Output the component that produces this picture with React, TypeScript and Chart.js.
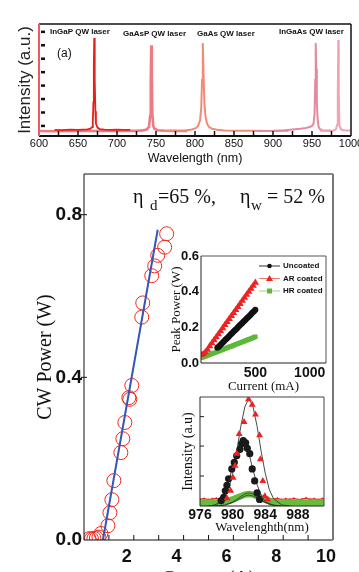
import React, { useEffect, useRef } from "react";
import { Chart, registerables } from "chart.js";

Chart.register(...registerables);

const SANS = '"Liberation Sans", Arial, Helvetica, sans-serif';
const SERIF = '"Liberation Serif", "Times New Roman", serif';

// ---------- Panel (a): lasing spectra ----------
const ingapWl = [620, 630, 640, 650, 656, 662, 666, 668, 669, 669.7, 670.3, 670.8, 671.2, 671.7, 672.3, 673, 675, 678, 684, 692, 700, 708, 717];
const ingapI = [0.055, 0.052, 0.056, 0.054, 0.057, 0.06, 0.066, 0.08, 0.12, 0.3, 0.65, 0.875, 0.8, 0.5, 0.22, 0.11, 0.075, 0.062, 0.057, 0.055, 0.056, 0.054, 0.055];
const gaaspWl = [600, 620, 650, 680, 700, 715, 725, 733, 738, 741, 742.5, 743.3, 744, 744.6, 745.3, 746.5, 748, 752, 760, 770, 780, 790];
const gaaspI = [0.045, 0.043, 0.046, 0.044, 0.045, 0.047, 0.046, 0.05, 0.058, 0.08, 0.18, 0.5, 0.81, 0.55, 0.2, 0.09, 0.065, 0.052, 0.048, 0.046, 0.045, 0.046];
const gaasWl = [760, 775, 788, 796, 801, 804, 806.5, 808, 809, 810, 811, 812, 813.5, 815.5, 818, 822, 828, 838, 855, 875, 900, 920];
const gaasI = [0.045, 0.047, 0.05, 0.058, 0.07, 0.09, 0.14, 0.25, 0.5, 0.83, 0.55, 0.3, 0.17, 0.11, 0.08, 0.065, 0.056, 0.05, 0.047, 0.046, 0.045, 0.046];
const ingaasWl = [880, 900, 915, 925, 935, 942, 947, 950, 952, 953.3, 954.2, 954.8, 955.4, 956.2, 957.2, 958.5, 960.5, 963, 967, 975];
const ingaasI = [0.045, 0.047, 0.052, 0.058, 0.065, 0.072, 0.08, 0.09, 0.11, 0.2, 0.5, 0.83, 0.6, 0.3, 0.15, 0.08, 0.06, 0.052, 0.048, 0.046];
const ingaas2Wl = [960, 970, 977, 980.5, 982.3, 983.1, 983.7, 984.3, 985.1, 987, 990, 995, 1000];
const ingaas2I = [0.046, 0.047, 0.05, 0.058, 0.1, 0.4, 0.857, 0.4, 0.1, 0.06, 0.052, 0.05, 0.048];
const topXTickMarks = [625, 650, 675, 700, 725, 750, 775, 800, 825, 850, 875, 900, 925, 950, 975];
const topYTickMarks = [0.09, 0.21, 0.33, 0.45, 0.57, 0.69, 0.81, 0.93];

// ---------- Main: CW power vs current ----------
const cwCurrent = [0.2, 0.3, 0.4, 0.5, 0.6, 0.68, 0.96, 1.04, 1.12, 1.2, 1.48, 1.56, 1.64, 1.8, 1.84, 1.92, 2.32, 2.36, 2.72, 2.84, 2.96, 3.24, 3.32];
const cwPower = [0.003, 0.003, 0.004, 0.005, 0.007, 0.016, 0.035, 0.067, 0.099, 0.146, 0.215, 0.249, 0.289, 0.35, 0.346, 0.38, 0.548, 0.583, 0.65, 0.674, 0.7, 0.72, 0.753];
const fitCurrent = [0.76, 2.96];
const fitPower = [0, 0.763];
const mainYTicks = [0, 0.4, 0.8];
const mainXTicks = [2, 4, 6, 8, 10];
const mainXTickMarks = [1, 2, 3, 4, 5, 6, 7, 8, 9];

// ---------- Inset: peak power vs current ----------
const hrCurrent = [0, 20, 40, 60, 80, 100, 120, 140, 160, 180, 200, 220, 240, 260, 280, 300, 320, 340, 360, 380, 400, 420, 440, 460, 480, 500];
const hrPower = [0.03, 0.033, 0.037, 0.042, 0.047, 0.052, 0.056, 0.061, 0.066, 0.071, 0.075, 0.08, 0.085, 0.09, 0.094, 0.099, 0.104, 0.109, 0.113, 0.118, 0.123, 0.128, 0.132, 0.137, 0.142, 0.147];
const ucCurrent = [150, 160, 170, 180, 190, 200, 210, 220, 230, 240, 250, 260, 270, 280, 290, 300, 310, 320, 330, 340, 350, 360, 370, 380, 390, 400, 410, 420, 430, 440, 450, 460, 470, 480, 490, 500];
const ucPower = [0.085, 0.09, 0.096, 0.102, 0.108, 0.115, 0.121, 0.127, 0.133, 0.139, 0.145, 0.152, 0.158, 0.164, 0.17, 0.176, 0.182, 0.188, 0.194, 0.2, 0.207, 0.213, 0.219, 0.225, 0.231, 0.237, 0.243, 0.249, 0.255, 0.261, 0.267, 0.274, 0.28, 0.286, 0.292, 0.298];
const arCurrent = [0, 20, 40, 60, 80, 100, 120, 140, 160, 180, 200, 220, 240, 260, 280, 300, 320, 340, 360, 380, 400, 420, 440, 460, 480, 500];
const arPower = [0.045, 0.05, 0.06, 0.075, 0.094, 0.111, 0.128, 0.145, 0.162, 0.179, 0.196, 0.213, 0.23, 0.247, 0.264, 0.281, 0.298, 0.315, 0.332, 0.349, 0.366, 0.383, 0.4, 0.417, 0.434, 0.45];
const peakYTicks = [0, 0.2, 0.4, 0.6];
const peakXTicks = [500, 1000];
const legendLabels = ["Uncoated", "AR coated", "HR coated"];

// ---------- Inset: spectra near 982 nm ----------
const arSpecWl = [979.3, 979.75, 980.05, 980.3, 980.5, 980.8, 981.4, 981.95, 982.4, 982.8, 983.3, 983.4, 983.7, 983.95, 984.3];
const arSpecI = [0.07, 0.14, 0.26, 0.37, 0.48, 0.66, 0.77, 0.98, 0.93, 0.84, 0.65, 0.43, 0.23, 0.09, 0.06];
const ucSpecWl = [978.6, 978.9, 979.1, 979.3, 979.5, 979.9, 980.2, 980.5, 980.9, 981.1, 981.3, 981.6, 981.8, 982.1, 982.4, 982.7, 983.0, 983.3];
const ucSpecI = [0.05, 0.08, 0.14, 0.19, 0.25, 0.34, 0.4, 0.46, 0.52, 0.57, 0.6, 0.58, 0.53, 0.48, 0.34, 0.23, 0.12, 0.06];
const hrSpecWl = [976, 976.5, 977, 977.5, 978, 978.5, 979, 979.5, 980, 980.5, 981, 981.5, 982, 982.5, 983, 983.5, 984, 984.5, 985, 985.5, 986, 986.5, 987, 987.5, 988, 988.5, 989, 989.5, 990, 990.5, 991, 991.5, 992];
const hrSpecI = [0.03, 0.032, 0.03, 0.031, 0.033, 0.035, 0.04, 0.048, 0.06, 0.075, 0.09, 0.105, 0.11, 0.105, 0.09, 0.075, 0.058, 0.045, 0.038, 0.034, 0.032, 0.031, 0.03, 0.032, 0.031, 0.03, 0.032, 0.03, 0.031, 0.03, 0.032, 0.03, 0.031];
const arNoiseLWl = [976, 976.5, 977, 977.5, 978, 978.5, 979];
const arNoiseL = [0.062, 0.068, 0.058, 0.065, 0.07, 0.061, 0.066];
const arNoiseRWl = [984.5, 985, 985.5, 986, 986.5, 987, 987.5, 988, 988.5, 989, 989.5, 990, 990.5, 991, 991.5, 992];
const arNoiseR = [0.068, 0.062, 0.07, 0.059, 0.066, 0.061, 0.069, 0.058, 0.064, 0.072, 0.06, 0.066, 0.058, 0.067, 0.061, 0.065];
const fitRedWl = [977, 978, 979, 979.5, 980, 980.5, 981, 981.5, 982, 982.5, 983, 983.5, 984, 984.5, 985, 986, 987];
const fitRed = [0, 0.01, 0.07, 0.15, 0.3, 0.5, 0.73, 0.91, 0.99, 0.91, 0.73, 0.5, 0.3, 0.15, 0.07, 0.01, 0];
const fitBlkWl = [977.5, 978, 978.5, 979, 979.5, 980, 980.5, 981, 981.3, 981.5, 982, 982.5, 983, 983.5, 984, 984.5, 985.5];
const fitBlk = [0, 0.017, 0.048, 0.11, 0.22, 0.36, 0.51, 0.59, 0.6, 0.58, 0.48, 0.33, 0.195, 0.096, 0.04, 0.014, 0];
const fitGrnWl = [978, 979, 980, 980.5, 981, 981.5, 982, 982.5, 983, 983.5, 984, 985, 986];
const fitGrn1 = [0, 0.008, 0.037, 0.061, 0.089, 0.112, 0.12, 0.112, 0.089, 0.061, 0.037, 0.008, 0];
const fitGrn2 = [0, 0.006, 0.03, 0.05, 0.073, 0.092, 0.1, 0.092, 0.073, 0.05, 0.03, 0.006, 0];
const specXTicks = [976, 980, 984, 988];
const specYTickMarks = [0.275, 0.55, 0.82];

// ---------- helpers ----------
const zip = (xs: number[], ys: number[]) => xs.map((x, i) => ({ x, y: ys[i] }));

const fitTo = (dim: "width" | "height", size: number) => (s: any) => {
  s[dim] = size;
  s.paddingLeft = 0;
  s.paddingRight = 0;
  s.paddingTop = 0;
  s.paddingBottom = 0;
};
const setTicks = (vals: number[]) => (s: any) => {
  s.ticks = vals.map((v) => ({ value: v }));
};
const plain = (v: any) => String(v);
const oneDec = (v: any) => Number(v).toFixed(1);
const noGrid = { display: false, drawTicks: false };

const framePlugin = {
  id: "frame",
  afterDatasetsDraw(chart: any, _a: any, opts: any) {
    const { ctx, chartArea: a } = chart;
    ctx.save();
    (opts.lines || []).forEach((l: any) => {
      ctx.strokeStyle = l.color;
      ctx.lineWidth = l.width;
      ctx.beginPath();
      if (l.side === "top") { ctx.moveTo(a.left, a.top); ctx.lineTo(a.right, a.top); }
      if (l.side === "bottom") { ctx.moveTo(a.left, a.bottom); ctx.lineTo(a.right, a.bottom); }
      if (l.side === "left") { ctx.moveTo(a.left, a.top); ctx.lineTo(a.left, a.bottom); }
      if (l.side === "right") { ctx.moveTo(a.right, a.top); ctx.lineTo(a.right, a.bottom); }
      ctx.stroke();
    });
    (opts.marks || []).forEach((m: any) => {
      const s = chart.scales[m.scale];
      ctx.strokeStyle = m.color;
      ctx.lineWidth = m.width;
      m.values.forEach((v: number) => {
        const p = s.getPixelForValue(v);
        ctx.beginPath();
        if (m.scale === "x") { ctx.moveTo(p, a.bottom + m.a); ctx.lineTo(p, a.bottom + m.b); }
        else { ctx.moveTo(a.left + m.a, p); ctx.lineTo(a.left + m.b, p); }
        ctx.stroke();
      });
    });
    ctx.restore();
  },
};

const legendPlugin = {
  id: "miniLegend",
  afterDraw(chart: any, _a: any, opts: any) {
    if (!opts || !opts.order) return;
    const { ctx, chartArea } = chart;
    ctx.save();
    opts.order.forEach((di: number, i: number) => {
      const ds = chart.data.datasets[di];
      const y = chartArea.top + opts.y + i * opts.row;
      const x = chartArea.left + opts.x;
      ctx.strokeStyle = ds.legendLine;
      ctx.lineWidth = 1;
      ctx.beginPath();
      ctx.moveTo(x, y);
      ctx.lineTo(x + opts.len, y);
      ctx.stroke();
      const mx = x + opts.len / 2;
      ctx.fillStyle = ds.pointBackgroundColor;
      ctx.beginPath();
      if (ds.pointStyle === "circle") ctx.arc(mx, y, 2.3, 0, Math.PI * 2);
      else if (ds.pointStyle === "triangle") { ctx.moveTo(mx, y - 3.5); ctx.lineTo(mx + 3.5, y + 2.5); ctx.lineTo(mx - 3.5, y + 2.5); ctx.closePath(); }
      else ctx.rect(mx - 2.5, y - 2.5, 5, 5);
      ctx.fill();
      ctx.fillStyle = "#111";
      ctx.font = opts.font;
      ctx.textBaseline = "middle";
      ctx.fillText(ds.label, x + opts.len + opts.gap, y);
    });
    ctx.restore();
  },
};

const common = {
  responsive: false,
  maintainAspectRatio: false,
  animation: false,
  devicePixelRatio: 1,
  events: [],
  elements: { line: { tension: 0 } },
};

const lineDs = (xs: number[], ys: number[], color: string, width: number) => ({
  data: zip(xs, ys), showLine: true, borderColor: color, borderWidth: width, pointRadius: 0,
});

// ---------- configs ----------
const topConfig = (): any => ({
  type: "scatter",
  data: {
    datasets: [
      lineDs(ingapWl, ingapI, "#e8201c", 1.8),
      lineDs(ingaas2Wl, ingaas2I, "#f2a2b2", 2),
      lineDs(ingaasWl, ingaasI, "#e48aa0", 2),
      lineDs(gaasWl, gaasI, "#f28a7a", 2),
      lineDs(gaaspWl, gaaspI, "#ee7a84", 2.6),
    ],
  },
  options: {
    ...common,
    layout: { padding: { top: 24, right: 8, left: 0, bottom: 0 } },
    scales: {
      x: {
        type: "linear", min: 600, max: 1000,
        afterFit: fitTo("height", 34),
        grid: noGrid, border: { display: false },
        ticks: { stepSize: 50, font: { family: SANS, size: 11 }, color: "#111", padding: 1.5, maxRotation: 0, autoSkip: false, callback: plain },
        title: { display: true, text: "Wavelength (nm)", font: { family: SANS, size: 12.5 }, color: "#111", padding: { top: 0, bottom: 3.5 } },
      },
      y: {
        type: "linear", min: 0, max: 1,
        afterFit: fitTo("width", 39),
        grid: noGrid, border: { display: false },
        ticks: { display: false },
        title: { display: true, text: "Intensity (a.u.)", font: { family: SANS, size: 17 }, color: "#222", padding: { top: 15, bottom: 0 } },
      },
    },
    plugins: {
      legend: { display: false }, tooltip: { enabled: false },
      frame: {
        lines: [
          { side: "top", color: "#111", width: 1.5 },
          { side: "right", color: "#111", width: 1.5 },
          { side: "bottom", color: "#111", width: 2 },
          { side: "left", color: "#ee5a64", width: 2 },
        ],
        marks: [
          { scale: "x", values: topXTickMarks, a: -5, b: 0, color: "#111", width: 1.5 },
          { scale: "y", values: topYTickMarks, a: 2, b: 6, color: "#111", width: 2.5 },
        ],
      },
    },
  },
  plugins: [framePlugin],
});

const mainConfig = (): any => ({
  type: "scatter",
  data: {
    datasets: [
      { ...lineDs(fitCurrent, fitPower, "#3556b8", 2), clip: 0 },
      {
        data: zip(cwCurrent, cwPower), showLine: false, pointStyle: "circle", pointRadius: 7,
        borderColor: "#ee2a1e", backgroundColor: "rgba(0,0,0,0)", borderWidth: 1, clip: 0,
      },
    ],
  },
  options: {
    ...common,
    layout: { padding: { top: 9, right: 26, left: 0, bottom: 0 } },
    scales: {
      x: {
        type: "linear", min: 0, max: 10,
        afterFit: fitTo("height", 55), afterBuildTicks: setTicks(mainXTicks),
        grid: noGrid, border: { display: false },
        ticks: { font: { family: SANS, size: 18, weight: "bold" }, color: "#111", padding: 6, labelOffset: -7, maxRotation: 0, autoSkip: false, callback: plain },
        title: { display: true, text: "Current (A)", font: { family: SERIF, size: 20 }, color: "#111", padding: { top: 0, bottom: 3 } },
      },
      y: {
        type: "linear", min: 0, max: 0.9,
        afterFit: fitTo("width", 84), afterBuildTicks: setTicks(mainYTicks),
        grid: noGrid, border: { display: false },
        ticks: { font: { family: SANS, size: 19, weight: "bold" }, color: "#111", padding: 2, callback: oneDec },
        title: { display: true, text: "CW Power (W)", font: { family: SERIF, size: 20 }, color: "#111", padding: { top: 34, bottom: 0 } },
      },
    },
    plugins: {
      legend: { display: false }, tooltip: { enabled: false },
      frame: {
        lines: [
          { side: "top", color: "#111", width: 1 },
          { side: "left", color: "#111", width: 1 },
          { side: "bottom", color: "#111", width: 1.2 },
          { side: "right", color: "#777", width: 2 },
        ],
        marks: [
          { scale: "x", values: mainXTickMarks, a: -5, b: 0, color: "#111", width: 1 },
          { scale: "y", values: mainYTicks.slice(1), a: -3, b: 3, color: "#111", width: 1 },
        ],
      },
    },
  },
  plugins: [framePlugin],
});

const peakConfig = (): any => ({
  type: "scatter",
  data: {
    datasets: [
      {
        label: legendLabels[1], data: zip(arCurrent, arPower), showLine: true, borderColor: "#ee2222", borderWidth: 1.5,
        pointStyle: "triangle", pointRadius: 4.2, pointBackgroundColor: "#ee2222", pointBorderWidth: 0, legendLine: "#f07a5a",
      },
      {
        label: legendLabels[0], data: zip(ucCurrent, ucPower), showLine: true, borderColor: "#1a1a1a", borderWidth: 4,
        pointStyle: "circle", pointRadius: 3, pointBackgroundColor: "#111", pointBorderWidth: 0, legendLine: "#333",
      },
      {
        label: legendLabels[2], data: zip(hrCurrent, hrPower), showLine: true, borderColor: "#74c64c", borderWidth: 5,
        pointStyle: "rect", pointRadius: 3.2, pointBackgroundColor: "#5cb83a", pointBorderWidth: 0, legendLine: "#9ad87a",
      },
    ],
  },
  options: {
    ...common,
    layout: { padding: { top: 16, right: 14, left: 0, bottom: 0 } },
    scales: {
      x: {
        type: "linear", min: 0, max: 1150,
        afterFit: fitTo("height", 37), afterBuildTicks: setTicks(peakXTicks),
        grid: noGrid, border: { display: false },
        ticks: { font: { family: SANS, size: 14, weight: "bold" }, color: "#111", padding: 2, maxRotation: 0, autoSkip: false, callback: plain },
        title: { display: true, text: "Current (mA)", font: { family: SERIF, size: 13 }, color: "#111", padding: { top: 0, bottom: 6 } },
      },
      y: {
        type: "linear", min: 0, max: 0.6,
        afterFit: fitTo("width", 41), afterBuildTicks: setTicks(peakYTicks),
        grid: noGrid, border: { display: false },
        ticks: { font: { family: SANS, size: 13, weight: "bold" }, color: "#111", padding: 2, callback: oneDec },
        title: { display: true, text: "Peak Power (W)", font: { family: SERIF, size: 13 }, color: "#111", padding: { top: 9, bottom: 0 } },
      },
    },
    plugins: {
      legend: { display: false }, tooltip: { enabled: false },
      frame: {
        lines: [
          { side: "top", color: "#555", width: 1 },
          { side: "right", color: "#555", width: 1 },
          { side: "bottom", color: "#222", width: 1 },
          { side: "left", color: "#222", width: 1 },
        ],
        marks: [],
      },
      miniLegend: { order: [1, 0, 2], x: 58, y: 10, row: 12.5, len: 21, gap: 3, font: `bold 8px ${SANS}` },
    },
  },
  plugins: [framePlugin, legendPlugin],
});

const specConfig = (): any => ({
  type: "scatter",
  data: {
    datasets: [
      { data: zip(arSpecWl, arSpecI), showLine: false, pointStyle: "triangle", pointRadius: 4, pointBackgroundColor: "#ee2222", pointBorderWidth: 0 },
      { data: zip(ucSpecWl, ucSpecI), showLine: false, pointStyle: "circle", pointRadius: 3.6, pointBackgroundColor: "#1a1a1a", pointBorderWidth: 0 },
      lineDs(fitRedWl, fitRed, "#333", 0.9),
      lineDs(fitBlkWl, fitBlk, "#333", 0.9),
      lineDs(fitGrnWl, fitGrn1, "#333", 0.8),
      lineDs(fitGrnWl, fitGrn2, "#333", 0.8),
      lineDs(hrSpecWl, hrSpecI, "#66bd3c", 6.5),
      { ...lineDs(arNoiseLWl, arNoiseL, "#ee2222", 1.3), pointRadius: 1.6, pointStyle: "triangle", pointBackgroundColor: "#ee2222", pointBorderWidth: 0 },
      { ...lineDs(arNoiseRWl, arNoiseR, "#ee2222", 1.3), pointRadius: 1.6, pointStyle: "triangle", pointBackgroundColor: "#ee2222", pointBorderWidth: 0 },
    ],
  },
  options: {
    ...common,
    layout: { padding: { top: 12, right: 11, left: 0, bottom: 0 } },
    scales: {
      x: {
        type: "linear", min: 976, max: 991.2,
        afterFit: fitTo("height", 29), afterBuildTicks: setTicks(specXTicks),
        grid: noGrid, border: { display: false },
        ticks: { font: { family: SANS, size: 14, weight: "bold" }, color: "#111", padding: 1, maxRotation: 0, autoSkip: false, callback: plain },
        title: { display: true, text: "Wavelenghth(nm)", font: { family: SERIF, size: 13 }, color: "#111", padding: { top: 0, bottom: 0 } },
      },
      y: {
        type: "linear", min: 0, max: 1,
        afterFit: fitTo("width", 40),
        grid: noGrid, border: { display: false },
        ticks: { display: false },
        title: { display: true, text: "Intensity (a.u)", font: { family: SERIF, size: 14 }, color: "#111", padding: { top: 20, bottom: 0 } },
      },
    },
    plugins: {
      legend: { display: false }, tooltip: { enabled: false },
      frame: {
        lines: [
          { side: "top", color: "#444", width: 1 },
          { side: "right", color: "#444", width: 1 },
          { side: "bottom", color: "#222", width: 1 },
          { side: "left", color: "#222", width: 1 },
        ],
        marks: [{ scale: "y", values: specYTickMarks, a: 0, b: 4, color: "#222", width: 1 }],
      },
    },
  },
  plugins: [framePlugin],
});

// ---------- components ----------
function ChartBox({ left, top, width, height, make }: any) {
  const ref = useRef<HTMLCanvasElement>(null);
  useEffect(() => {
    const c = new Chart(ref.current as HTMLCanvasElement, make());
    return () => c.destroy();
  }, []);
  return (
    <div style={{ position: "absolute", left, top, width, height }}>
      <canvas ref={ref} width={width} height={height} style={{ display: "block", width, height }} />
    </div>
  );
}

function Txt({ x, base, size, family, weight, children }: any) {
  return (
    <div
      style={{
        position: "absolute", left: x, top: base - size * 0.84, fontFamily: family, fontSize: size,
        fontWeight: weight || "normal", lineHeight: 1, whiteSpace: "nowrap", color: "#111",
      }}
    >
      {children}
    </div>
  );
}

export default function App() {
  return (
    <div style={{ position: "absolute", left: 0, top: 0, width: 359, height: 572, overflow: "hidden", background: "#fff" }}>
      <ChartBox left={0} top={0} width={359} height={170} make={topConfig} />
      <ChartBox left={0} top={165} width={359} height={430} make={mainConfig} />
      <ChartBox left={160} top={240} width={180} height={160} make={peakConfig} />
      <ChartBox left={160} top={385} width={175} height={150} make={specConfig} />

      <Txt x={50} base={35} size={8} family={SANS} weight="bold">InGaP QW laser</Txt>
      <Txt x={123} base={37} size={8} family={SANS} weight="bold">GaAsP QW laser</Txt>
      <Txt x={197} base={37} size={8} family={SANS} weight="bold">GaAs QW laser</Txt>
      <Txt x={279} base={35} size={8} family={SANS} weight="bold">InGaAs QW laser</Txt>
      <Txt x={57} base={57} size={12} family={SANS}>(a)</Txt>

      <Txt x={133} base={203} size={20} family={SERIF}>η</Txt>
      <Txt x={150} base={211} size={15} family={SERIF}>d</Txt>
      <Txt x={158} base={203} size={20} family={SERIF}>=65 %,</Txt>
      <Txt x={240} base={203} size={20} family={SERIF}>η</Txt>
      <Txt x={251} base={211} size={15} family={SERIF}>w</Txt>
      <Txt x={267} base={203} size={20} family={SERIF}>= 52 %</Txt>
    </div>
  );
}
